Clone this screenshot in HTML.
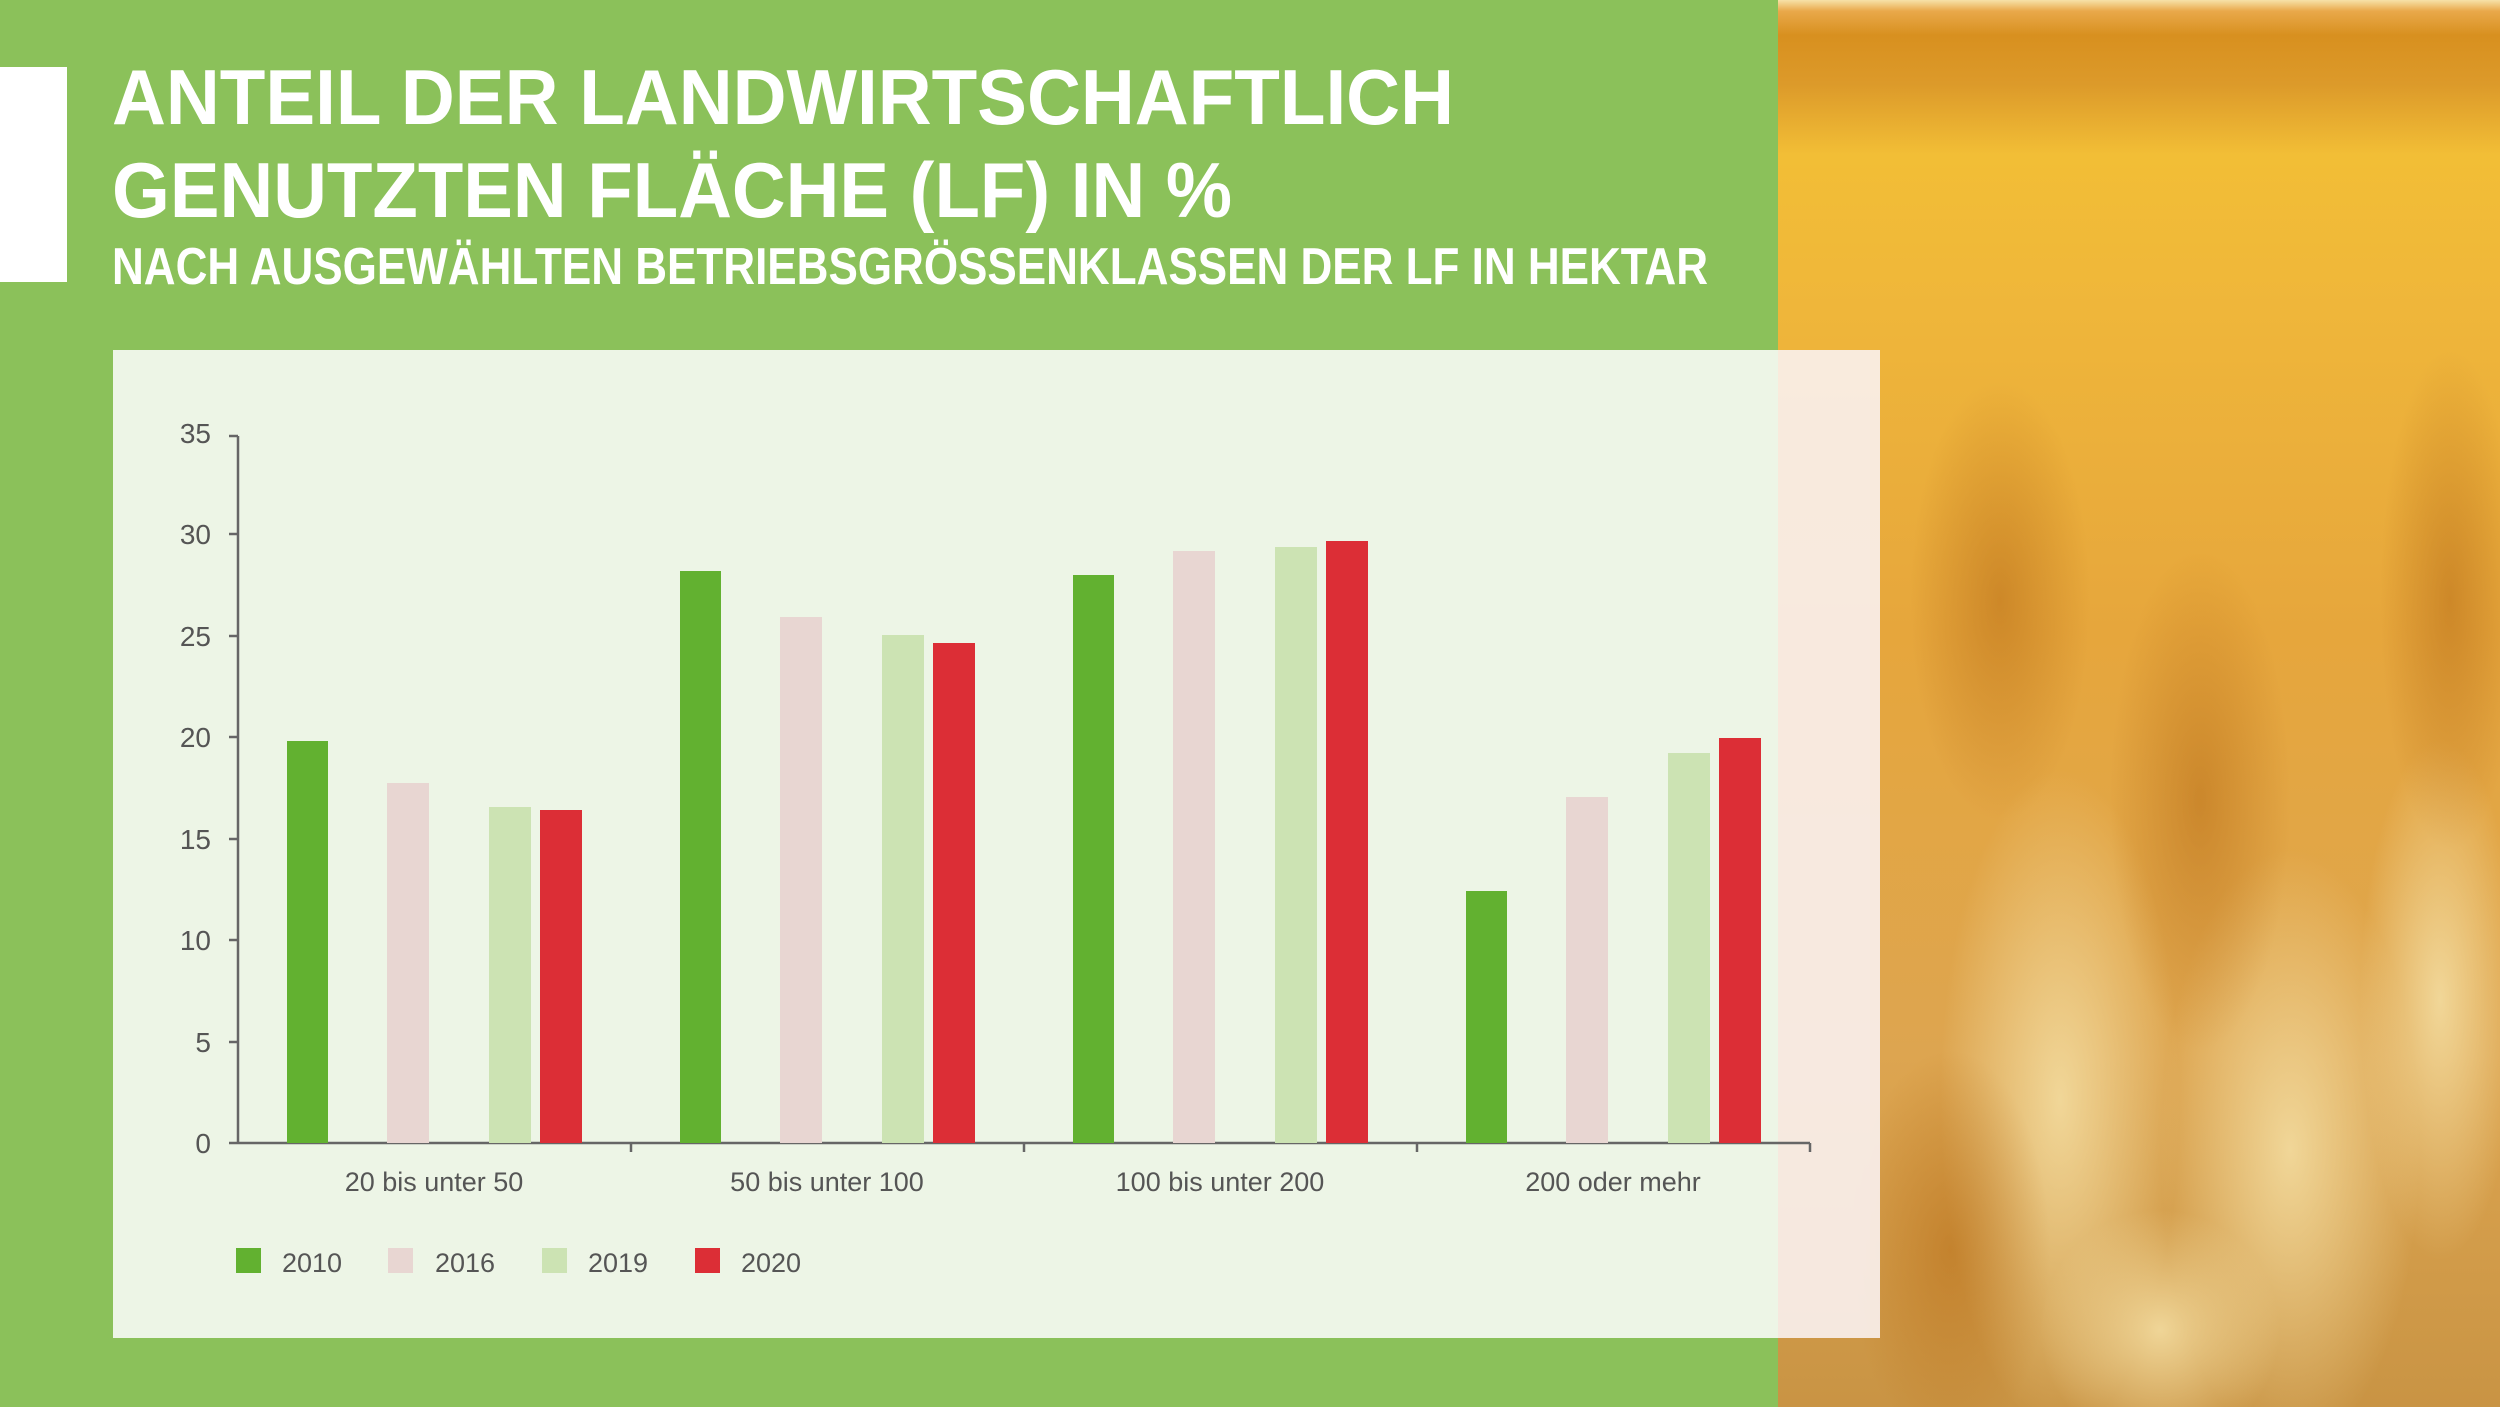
<!DOCTYPE html>
<html><head><meta charset="utf-8"><style>
html,body{margin:0;padding:0;width:2500px;height:1407px;overflow:hidden;background:#8bc15a}
svg{display:block}
</style></head><body>
<svg width="2500" height="1407" viewBox="0 0 2500 1407" xmlns="http://www.w3.org/2000/svg">
<defs>
<linearGradient id="sky" x1="0" y1="0" x2="0" y2="1">
<stop offset="0" stop-color="#f7e2a8"/>
<stop offset="0.008" stop-color="#e9a84a"/>
<stop offset="0.025" stop-color="#d8901f"/>
<stop offset="0.06" stop-color="#dc9a2a"/>
<stop offset="0.11" stop-color="#f2be36"/>
<stop offset="0.22" stop-color="#efb63a"/>
<stop offset="0.45" stop-color="#e6a63c"/>
<stop offset="0.75" stop-color="#dda550"/>
<stop offset="1" stop-color="#c99444"/>
</linearGradient>
<radialGradient id="g1" cx="0.5" cy="0.5" r="0.5"><stop offset="0" stop-color="#f3dca0" stop-opacity="0.9"/><stop offset="1" stop-color="#f3dca0" stop-opacity="0"/></radialGradient>
<radialGradient id="g2" cx="0.5" cy="0.5" r="0.5"><stop offset="0" stop-color="#b86e18" stop-opacity="0.55"/><stop offset="1" stop-color="#b86e18" stop-opacity="0"/></radialGradient>
</defs>
<rect x="0" y="0" width="2500" height="1407" fill="#8bc15a"/>
<rect x="1778" y="0" width="722" height="1407" fill="url(#sky)"/>
<ellipse cx="2060" cy="1100" rx="120" ry="330" fill="url(#g1)"/>
<ellipse cx="2290" cy="1150" rx="130" ry="300" fill="url(#g1)"/>
<ellipse cx="2440" cy="1000" rx="80" ry="260" fill="url(#g1)"/>
<ellipse cx="2160" cy="1330" rx="120" ry="120" fill="url(#g1)"/>
<ellipse cx="2200" cy="800" rx="90" ry="250" fill="url(#g2)"/>
<ellipse cx="2450" cy="600" rx="70" ry="250" fill="url(#g2)"/>
<ellipse cx="1950" cy="1250" rx="100" ry="200" fill="url(#g2)"/>
<ellipse cx="2000" cy="600" rx="90" ry="220" fill="url(#g2)"/>
<rect x="0" y="67" width="67" height="215" fill="#ffffff"/>
<g font-family="Liberation Sans, sans-serif" font-weight="bold" fill="#ffffff">
<text x="112" y="124" font-size="78" textLength="1342" lengthAdjust="spacingAndGlyphs">ANTEIL DER LANDWIRTSCHAFTLICH</text>
<text x="112" y="217" font-size="78" textLength="1120" lengthAdjust="spacingAndGlyphs">GENUTZTEN FLÄCHE (LF) IN %</text>
<text x="112" y="284" font-size="52" textLength="1596" lengthAdjust="spacingAndGlyphs">NACH AUSGEWÄHLTEN BETRIEBSGRÖSSENKLASSEN DER LF IN HEKTAR</text>
</g>
<rect x="113" y="350" width="1665" height="988" fill="#edf5e6"/>
<rect x="1778" y="350" width="102" height="988" fill="#f9f1f0" fill-opacity="0.9"/>
<g font-family="Liberation Sans, sans-serif" font-size="28" fill="#555" text-anchor="end">
<text x="211" y="1153">0</text><text x="211" y="1052">5</text><text x="211" y="950">10</text><text x="211" y="849">15</text><text x="211" y="747">20</text><text x="211" y="646">25</text><text x="211" y="544">30</text><text x="211" y="443">35</text>
</g>
<g stroke="#666" stroke-width="2.5" fill="none">
<line x1="238" y1="436" x2="238" y2="1144"/>
<line x1="229" y1="1143" x2="1810" y2="1143"/>
<line x1="229" y1="1042" x2="238" y2="1042"/><line x1="229" y1="940" x2="238" y2="940"/><line x1="229" y1="839" x2="238" y2="839"/><line x1="229" y1="737" x2="238" y2="737"/><line x1="229" y1="636" x2="238" y2="636"/><line x1="229" y1="534" x2="238" y2="534"/><line x1="229" y1="436" x2="238" y2="436"/>
<line x1="631" y1="1143" x2="631" y2="1152"/><line x1="1024" y1="1143" x2="1024" y2="1152"/><line x1="1417" y1="1143" x2="1417" y2="1152"/><line x1="1810" y1="1143" x2="1810" y2="1152"/>
</g>
<g>
<rect x="287" y="741" width="41" height="402" fill="#62b130"/>
<rect x="387" y="783" width="42" height="360" fill="#e8d6d2"/>
<rect x="489" y="807" width="42" height="336" fill="#cce3b3"/>
<rect x="540" y="810" width="42" height="333" fill="#dc2e36"/>

<rect x="680" y="571" width="41" height="572" fill="#62b130"/>
<rect x="780" y="617" width="42" height="526" fill="#e8d6d2"/>
<rect x="882" y="635" width="42" height="508" fill="#cce3b3"/>
<rect x="933" y="643" width="42" height="500" fill="#dc2e36"/>

<rect x="1073" y="575" width="41" height="568" fill="#62b130"/>
<rect x="1173" y="551" width="42" height="592" fill="#e8d6d2"/>
<rect x="1275" y="547" width="42" height="596" fill="#cce3b3"/>
<rect x="1326" y="541" width="42" height="602" fill="#dc2e36"/>

<rect x="1466" y="891" width="41" height="252" fill="#62b130"/>
<rect x="1566" y="797" width="42" height="346" fill="#e8d6d2"/>
<rect x="1668" y="753" width="42" height="390" fill="#cce3b3"/>
<rect x="1719" y="738" width="42" height="405" fill="#dc2e36"/>
</g>
<g font-family="Liberation Sans, sans-serif" font-size="27" fill="#555" text-anchor="middle">
<text x="434" y="1191">20 bis unter 50</text>
<text x="827" y="1191">50 bis unter 100</text>
<text x="1220" y="1191">100 bis unter 200</text>
<text x="1613" y="1191">200 oder mehr</text>
</g>
<g font-family="Liberation Sans, sans-serif" font-size="27" fill="#555">
<rect x="236" y="1248" width="25" height="25" fill="#62b130"/><text x="282" y="1272">2010</text>
<rect x="388" y="1248" width="25" height="25" fill="#e8d6d2"/><text x="435" y="1272">2016</text>
<rect x="542" y="1248" width="25" height="25" fill="#cce3b3"/><text x="588" y="1272">2019</text>
<rect x="695" y="1248" width="25" height="25" fill="#dc2e36"/><text x="741" y="1272">2020</text>
</g>
</svg>
</body></html>
